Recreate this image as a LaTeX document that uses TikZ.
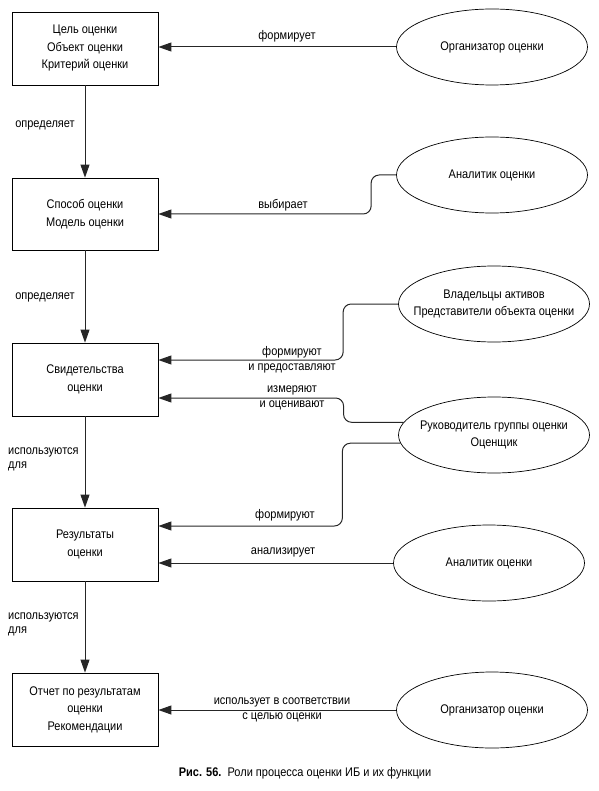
\documentclass[tikz,border=0pt]{standalone}
\usepackage{fontspec}
\setmainfont[FakeStretch=0.88]{Liberation Sans}
\usetikzlibrary{shapes.geometric,arrows.meta}
\begin{document}
\begin{tikzpicture}[x=1pt,y=-1pt,
  box/.style={draw, line width=0.8pt, minimum width=146pt, minimum height=73pt, align=center, inner sep=2pt, font=\fontsize{12.5}{17.5}\selectfont},
  role/.style={draw, ellipse, line width=0.7pt, minimum width=191pt, minimum height=76pt, align=center, inner xsep=-25pt, inner ysep=0pt, font=\fontsize{12.5}{17.5}\selectfont},
  conn/.style={-{Triangle[length=13pt,width=9pt]}, line width=1pt, draw=black!85, rounded corners=8pt},
  lbl/.style={font=\fontsize{12.5}{15}\selectfont, align=center, inner sep=0pt},
  llbl/.style={font=\fontsize{12.5}{14}\selectfont, align=left, inner sep=0pt, anchor=west}
]
\useasboundingbox (0,0) rectangle (598,791);
% boxes
\node[box] (b1) at (85,48.5) {Цель оценки\\Объект оценки\\Критерий оценки};
\node[box, minimum height=72pt] (b2) at (85,214) {Способ оценки\\Модель оценки};
\node[box] (b3) at (85,379.5) {Свидетельства\\оценки};
\node[box] (b4) at (85,544.5) {Результаты\\оценки};
\node[box] (b5) at (85,709.5) {Отчет по результатам\\оценки\\Рекомендации};
% roles
\node[role] (e1) at (492,47) {Организатор оценки};
\node[role] (e2) at (492,175) {Аналитик оценки};
\node[role] (e3) at (494,304) {Владельцы активов\\Представители объекта оценки};
\node[role] (e4) at (494,435) {Руководитель группы оценки\\Оценщик};
\node[role] (e5) at (489,563) {Аналитик оценки};
\node[role] (e6) at (492,710) {Организатор оценки};
% vertical flow
\draw[conn] (b1) -- (b2);
\draw[conn] (b2) -- (b3);
\draw[conn] (b3) -- (b4);
\draw[conn] (b4) -- (b5);
% role connectors
\draw[conn] (e1.west) -- (e1.west -| b1.east);
\draw[conn] (e2.west) -- ++(-25,0) |- (b2.east);
\draw[conn] (e3.west) -- ++(-55,0) |- ([yshift=19.5pt]b3.east);
\draw[conn] (e4.172) -- ++(-60,0) |- ([yshift=-18.5pt]b3.east);
\draw[conn] (e4.185) -- ++(-58,0) |- ([yshift=18.5pt]b4.east);
\draw[conn] (e5.west) -- (e5.west -| b4.east);
\draw[conn] (e6.west) -- (e6.west -| b5.east);
% labels
\node[lbl] (l1) at (287,36) {формирует};
\node[lbl] (l2) at (283,205) {выбирает};
\node[lbl] (l3) at (292,360) {формируют\\и предоставляют};
\node[lbl] (l4) at (292,398) {измеряют\\и оценивают};
\node[lbl] (l5) at (285,515) {формируют};
\node[lbl] (l6) at (283,552) {анализирует};
\node[lbl] (l7) at (282,709.5) {использует в соответствии\\с целью оценки};
\node[lbl] (v1) at (45,125) {определяет};
\node[lbl] (v2) at (45,297) {определяет};
\node[llbl] (v3) at (8,459) {используются\\для};
\node[llbl] (v4) at (8,624.5) {используются\\для};
% caption
\node[lbl] (cap) at (305,773) {\textbf{Рис. 56.}\ \ Роли процесса оценки ИБ и их функции};
\end{tikzpicture}
\end{document}
